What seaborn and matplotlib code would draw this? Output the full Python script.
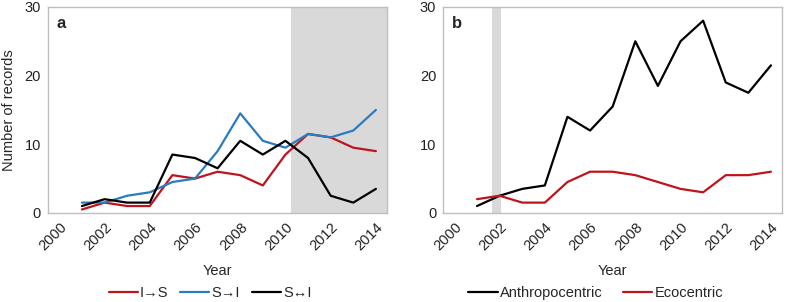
import matplotlib
matplotlib.use("Agg")
import matplotlib.pyplot as plt
import seaborn as sns
import pandas as pd

years = list(range(2001, 2015))
i_to_s = [0.5, 1.5, 1, 1, 5.5, 5, 6, 5.5, 4, 8.5, 11.5, 11, 9.5, 9]
s_to_i = [1.5, 1.5, 2.5, 3, 4.5, 5, 9, 14.5, 10.5, 9.5, 11.5, 11, 12, 15]
s_both_i = [1, 2, 1.5, 1.5, 8.5, 8, 6.5, 10.5, 8.5, 10.5, 8, 2.5, 1.5, 3.5]
anthropocentric = [1, 2.5, 3.5, 4, 14, 12, 15.5, 25, 18.5, 25, 28, 19, 17.5, 21.5]
ecocentric = [2, 2.5, 1.5, 1.5, 4.5, 6, 6, 5.5, 4.5, 3.5, 3, 5.5, 5.5, 6]
tick_years = [2000, 2002, 2004, 2006, 2008, 2010, 2012, 2014]
labels_a = ["I→S", "S→I", "S↔I"]
labels_b = ["Anthropocentric", "Ecocentric"]

sns.set_theme(style="white")
plt.rcParams['font.family'] = ['Liberation Sans', 'DejaVu Sans']
plt.rcParams['font.size'] = 10.5

RED = "#C0141C"
BLUE = "#2B7BC0"
BLACK = "#000000"
SPINE = "#BFBFBF"
FS = 10.5

dfa = pd.DataFrame({"Year": years * 3,
                    "value": i_to_s + s_to_i + s_both_i,
                    "series": [labels_a[0]] * 14 + [labels_a[1]] * 14 + [labels_a[2]] * 14})
dfb = pd.DataFrame({"Year": years * 2,
                    "value": anthropocentric + ecocentric,
                    "series": [labels_b[0]] * 14 + [labels_b[1]] * 14})

fig = plt.figure(figsize=(7.87, 3.02), dpi=100)
axa = fig.add_axes([0.061, 0.295, 0.431, 0.682])
axb = fig.add_axes([0.563, 0.295, 0.431, 0.682])

axa.axvspan(2010.25, 2014.5, color="#D9D9D9", lw=0, zorder=0)
axb.axvspan(2001.68, 2002.06, color="#D9D9D9", lw=0, zorder=0)

sns.lineplot(data=dfa, x="Year", y="value", hue="series",
             palette=[RED, BLUE, BLACK], lw=1.6, ax=axa)
sns.lineplot(data=dfb, x="Year", y="value", hue="series",
             palette=[BLACK, RED], lw=1.6, ax=axb)

for ax, lab, cs, lx in [(axa, "a", 0.8, 0.478), (axb, "b", 1.4, 0.45)]:
    ax.set_xlim(1999.5, 2014.5)
    ax.set_ylim(0, 30)
    ax.set_yticks([0, 10, 20, 30])
    ax.set_xticks(tick_years)
    ax.set_xticklabels([str(y) for y in tick_years], rotation=45, ha="right",
                       rotation_mode="anchor")
    ax.tick_params(axis="both", length=0, pad=5, labelsize=FS, colors="#222222")
    for s in ax.spines.values():
        s.set_color(SPINE)
        s.set_linewidth(1.0)
    ax.set_xlabel("Year", fontsize=FS, labelpad=8)
    ax.set_ylabel("")
    ax.text(0.025, 0.955, lab, transform=ax.transAxes, fontsize=12,
            fontweight="bold", va="top", ha="left")
    ax.legend(loc="center", bbox_to_anchor=(lx, -0.388), ncol=3,
              frameon=False, fontsize=FS, handlelength=2.0, handletextpad=0.15,
              columnspacing=cs, borderaxespad=0, borderpad=0)

axa.set_ylabel("Number of records", fontsize=FS, labelpad=6)

fig.savefig("out.png", dpi=100)
